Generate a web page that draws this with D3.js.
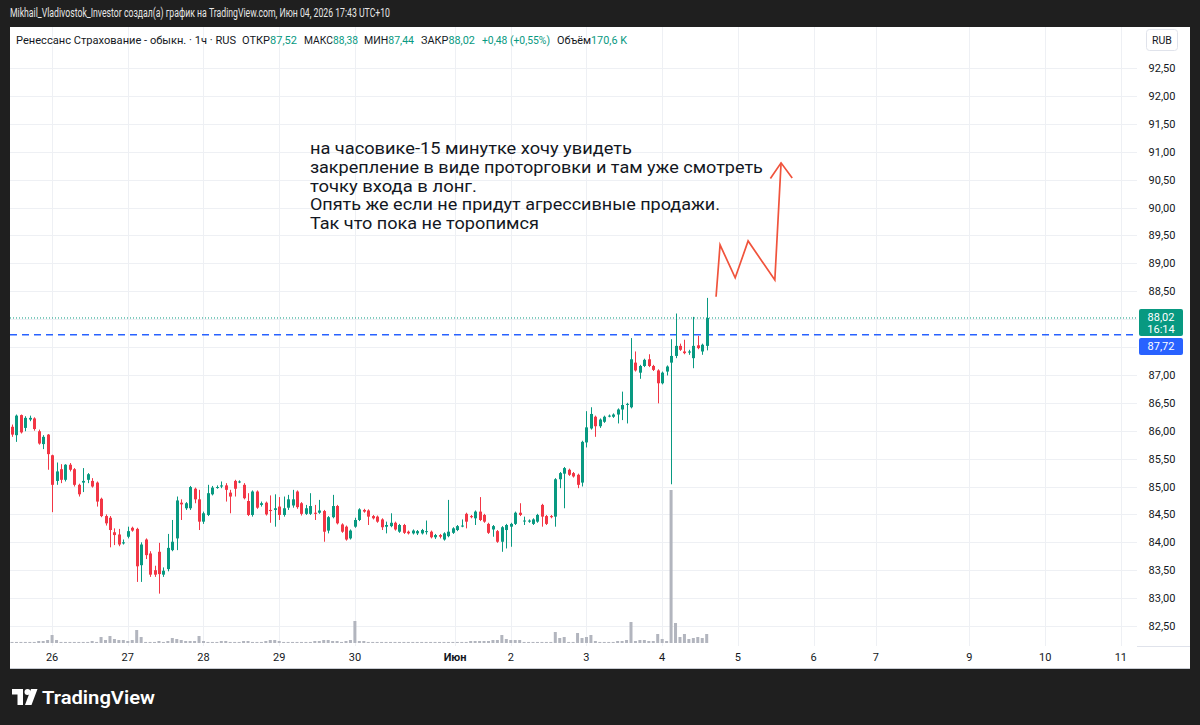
<!DOCTYPE html>
<html><head><meta charset="utf-8">
<script src="https://cdn.jsdelivr.net/npm/d3@7"></script>
<style>
html,body{margin:0;padding:0;background:#1f1f1f;}
svg{display:block;}
text{font-family:Roboto,"Noto Sans",sans-serif;}
</style></head><body>
<svg id="c" width="1200" height="725"></svg>
<script>
// ---------- DATA ----------
const opens=[86.07,85.92,86.28,86.05,86.20,86.22,85.99,85.76,85.93,85.56,85.10,85.31,85.12,85.39,85.31,85.03,85.07,85.12,85.10,85.07,
84.78,84.47,84.44,84.18,84.14,83.98,84.10,84.26,84.24,83.59,84.05,83.80,83.50,83.83,83.42,83.52,83.86,84.07,84.71,84.61,
84.61,84.96,84.77,84.37,84.49,84.86,84.98,85.00,85.02,84.89,85.10,85.08,85.03,84.74,84.49,84.91,84.67,84.71,84.58,84.58,
84.64,84.49,84.62,84.66,84.91,84.70,84.51,84.51,84.53,84.53,84.56,84.21,84.45,84.65,84.32,84.28,84.07,84.28,84.40,84.58,
84.57,84.47,84.46,84.41,84.28,84.29,84.35,84.19,84.31,84.19,84.16,84.16,84.16,84.19,84.19,84.09,84.13,84.05,84.11,84.17,
84.22,84.29,84.51,84.47,84.43,84.55,84.49,84.33,84.23,84.20,84.01,84.22,84.28,84.33,84.53,84.38,84.37,84.33,84.37,84.67,
84.47,84.47,84.46,85.13,85.23,85.30,85.24,85.21,85.07,85.79,86.04,86.25,86.08,86.16,86.26,86.25,86.29,86.38,86.47,86.42,
87.22,87.04,87.16,87.28,87.16,87.08,86.85,87.06,87.22,87.34,87.52,87.42,87.40,87.30,87.53,87.42,87.52];
const highs=[86.11,86.29,86.29,86.26,86.27,86.24,86.02,85.92,85.94,85.57,85.43,85.40,85.40,85.42,85.33,85.05,85.33,85.24,85.15,85.09,
84.80,84.50,84.47,84.25,84.24,84.05,84.28,84.28,84.26,84.00,84.07,83.84,83.58,83.99,83.55,84.15,84.40,84.82,84.77,84.72,
85.01,84.98,84.94,84.55,85.03,85.01,85.02,85.09,85.06,84.94,85.12,85.11,85.06,84.88,84.93,84.93,84.73,84.73,84.84,84.86,
84.81,84.82,84.85,84.94,84.93,84.72,84.67,84.88,84.67,84.76,84.58,84.47,84.85,84.67,84.34,84.30,84.23,84.44,84.61,84.60,
84.59,84.49,84.48,84.43,84.37,84.52,84.37,84.33,84.33,84.21,84.23,84.22,84.24,84.39,84.21,84.15,84.15,84.18,84.76,84.27,
84.31,84.41,84.53,84.49,84.57,84.81,84.51,84.35,84.31,84.22,84.29,84.33,84.35,84.55,84.70,84.46,84.41,84.43,84.51,84.69,
84.49,84.49,85.15,85.26,85.35,85.32,85.26,85.23,85.82,86.35,86.42,86.27,86.22,86.27,86.29,86.31,86.40,86.70,86.50,87.66,
87.42,87.18,87.29,87.37,87.18,87.10,87.06,87.17,87.64,88.10,87.56,87.63,87.45,88.04,87.70,87.56,88.38];
const lows=[85.89,85.80,85.95,85.99,86.17,86.00,85.75,85.67,85.30,84.54,85.03,85.06,85.09,85.27,85.00,84.82,84.90,85.06,84.98,84.64,
84.45,84.30,83.91,83.95,83.93,83.96,84.07,84.19,83.29,83.29,83.70,83.38,83.38,83.08,83.38,83.48,83.84,83.86,84.40,84.58,
84.58,84.70,84.22,84.33,84.47,84.84,84.96,84.97,84.73,84.52,84.82,85.06,84.77,84.47,84.46,84.60,84.64,84.48,84.35,84.28,
84.40,84.46,84.58,84.62,84.60,84.48,84.49,84.49,84.40,84.51,84.01,84.16,84.43,84.32,84.17,84.03,84.05,84.26,84.38,84.53,
84.31,84.41,84.35,84.22,84.16,84.27,84.21,84.17,84.15,84.14,84.14,84.13,84.14,84.14,84.07,84.06,84.07,84.03,84.09,84.15,
84.20,84.27,84.25,84.43,84.31,84.38,84.35,84.15,84.10,83.99,83.83,83.89,83.92,84.31,84.47,84.31,84.35,84.31,84.35,84.28,
84.31,84.43,84.28,84.97,84.61,85.19,85.16,84.97,85.00,85.70,86.02,85.89,86.05,86.14,86.24,86.23,86.13,86.19,86.13,86.40,
87.06,86.93,87.14,87.14,87.07,86.49,86.83,86.99,85.04,87.30,87.43,87.37,87.36,87.12,87.46,87.36,87.44];
const closes=[85.93,86.27,85.97,86.23,86.23,86.03,85.77,85.89,85.58,85.03,85.27,85.12,85.39,85.30,85.03,84.86,85.10,85.22,85.00,84.73,
84.47,84.34,84.22,84.13,83.96,84.00,84.20,84.21,83.57,83.96,83.77,83.42,83.42,83.43,83.49,83.90,84.01,84.75,84.68,84.70,
84.99,84.77,84.37,84.52,84.88,84.98,84.99,85.02,84.94,84.82,84.96,85.09,84.79,84.49,84.91,84.62,84.70,84.50,84.56,84.61,
84.49,84.61,84.77,84.77,84.63,84.51,84.61,84.65,84.51,84.57,84.19,84.45,84.65,84.34,84.19,84.05,84.21,84.40,84.59,84.55,
84.46,84.43,84.37,84.27,84.31,84.35,84.23,84.31,84.17,84.16,84.21,84.20,84.22,84.20,84.09,84.13,84.10,84.16,84.19,84.25,
84.29,84.30,84.37,84.45,84.55,84.40,84.37,84.17,84.29,84.01,84.27,84.31,84.33,84.53,84.49,84.39,84.39,84.41,84.49,84.46,
84.33,84.45,85.13,85.24,85.33,85.21,85.18,85.03,85.80,86.06,86.30,86.08,86.20,86.25,86.27,86.29,86.38,86.46,86.48,87.28,
87.08,87.16,87.27,87.16,87.09,86.85,87.04,87.15,87.34,87.52,87.45,87.39,87.42,87.52,87.48,87.54,88.02];
// volume, thousands of shares
const volumes=[20,20,20,20,20,20,38,38,57,152,57,20,20,20,20,20,20,20,38,20,
114,57,133,76,57,57,38,57,247,114,20,20,20,38,20,38,95,76,57,38,
38,38,133,38,20,20,20,38,38,20,20,20,38,38,20,20,20,38,57,57,
38,20,20,20,20,20,20,20,38,38,57,57,38,38,20,38,57,418,38,38,
20,20,20,20,20,20,20,20,20,20,20,20,20,20,20,20,20,20,20,20,
20,20,20,38,38,38,38,38,57,57,152,76,57,57,57,20,20,20,20,20,
20,20,209,95,114,20,20,190,95,114,152,38,20,20,20,20,38,38,57,399,
38,57,57,38,38,171,76,38,2907,380,114,171,76,95,114,95,171];
const priceTicks=[82.5,83,83.5,84,84.5,85,85.5,86,86.5,87,87.5,88,88.5,89,89.5,90,90.5,91,91.5,92,92.5];
const hiddenTicks=[87.5,88];
const dateLabels=["26","27","28","29","30","Июн","2","3","4","5","6","7","9","10","11"];
const dateIndex=[9,26,43,60,77,99.5,112,129,146,163,180,194,215,232,249];
const lastClose=88.02, lastTime="16:14", lineLevel=87.72;
const zigzag=[[158.1,88.40],[159.0,89.33],[162.4,88.74],[165.3,89.40],[171.3,88.70],[172.7,90.80]];
const arrowWings=[[170.3,90.52],[172.7,90.80],[175.2,90.53]];
const noteAnchor=[66.9,90.96];
const noteLines=["на часовике-15 минутке хочу увидеть","закрепление в виде проторговки и там уже смотреть","точку входа в лонг.","Опять же если не придут агрессивные продажи.","Так что пока не торопимся"];
const noteWidths=[322,453,167,410,229];
// legend: [label, value, x, width]
const legendTitle=["Ренессанс Страхование - обыкн. · 1ч · RUS",16,220];
const legendParts=[["ОТКР","87,52",242,55],["МАКС","88,38",304,54],["МИН","87,44",364,50],["ЗАКР","88,02",421,54],["","+0,48 (+0,55%)",482,68],["Объём","170,6 K",557,70]];
const headerText="Mikhail_Vladivostok_Investor создал(а) график на TradingView.com, Июн 04, 2026 17:43 UTC+10";

// ---------- LAYOUT ----------
const svg=d3.select("#c");
const UP="#089981", DOWN="#f23645";
const panel={x0:10,x1:1190,y0:27,y1:669};
const plotRight=1137, timeTop=646, volBase=643;
const x=d3.scaleLinear().domain([0,156]).range([12,706.7]);
const y=d3.scaleLinear().domain([82.5,92.5]).range([626,68]);
const v=d3.scaleLinear().domain([0,d3.max(volumes)]).range([0,153]);
const fmt=p=>d3.format(".2f")(p).replace(".",",");

svg.append("rect").attr("width",1200).attr("height",725).attr("fill","#1f1f1f");
svg.append("rect").attr("x",panel.x0).attr("y",panel.y0).attr("width",panel.x1-panel.x0).attr("height",panel.y1-panel.y0).attr("fill","#ffffff");

// header
svg.append("text").attr("x",10).attr("y",17).attr("fill","#e6e6e6").attr("font-size",12)
  .attr("textLength",380).attr("lengthAdjust","spacingAndGlyphs").text(headerText);

const plot=svg.append("g");
plot.append("clipPath").attr("id","clip").append("rect").attr("x",panel.x0).attr("y",panel.y0).attr("width",plotRight-panel.x0).attr("height",timeTop-panel.y0);
const g=plot.append("g").attr("clip-path","url(#clip)");

// grid
g.selectAll("line.hg").data(priceTicks).join("line").attr("class","hg")
  .attr("x1",panel.x0).attr("x2",plotRight).attr("y1",d=>Math.round(y(d))+0.5).attr("y2",d=>Math.round(y(d))+0.5)
  .attr("stroke","#eef0f4").attr("stroke-width",1);
g.selectAll("line.vg").data(dateIndex).join("line").attr("class","vg")
  .attr("x1",d=>Math.round(x(d))+0.5).attr("x2",d=>Math.round(x(d))+0.5).attr("y1",panel.y0).attr("y2",timeTop)
  .attr("stroke","#eef0f4").attr("stroke-width",1);

// volume
g.selectAll("rect.vol").data(volumes).join("rect").attr("class","vol")
  .attr("x",(d,i)=>x(i)-1.5).attr("width",3)
  .attr("y",d=>volBase-Math.max(1,v(d))).attr("height",d=>Math.max(1,v(d)))
  .attr("fill","#b2b5be");

// price lines
g.append("line").attr("x1",panel.x0).attr("x2",plotRight).attr("y1",y(lastClose)).attr("y2",y(lastClose))
  .attr("stroke",UP).attr("stroke-width",1).attr("stroke-dasharray","1,2");
g.append("line").attr("x1",panel.x0).attr("x2",plotRight+4).attr("y1",y(lineLevel)).attr("y2",y(lineLevel))
  .attr("stroke","#2962ff").attr("stroke-width",1.5).attr("stroke-dasharray","7,5");

// candles
const idx=d3.range(opens.length);
g.selectAll("line.wick").data(idx).join("line").attr("class","wick")
  .attr("x1",i=>Math.round(x(i))+0.5).attr("x2",i=>Math.round(x(i))+0.5)
  .attr("y1",i=>y(highs[i])).attr("y2",i=>y(lows[i]))
  .attr("stroke",i=>closes[i]>=opens[i]?UP:DOWN).attr("stroke-width",1);
g.selectAll("rect.body").data(idx).join("rect").attr("class","body")
  .attr("x",i=>Math.round(x(i))-1).attr("width",3)
  .attr("y",i=>y(Math.max(opens[i],closes[i])))
  .attr("height",i=>Math.max(1,Math.abs(y(opens[i])-y(closes[i]))))
  .attr("fill",i=>closes[i]>=opens[i]?UP:DOWN);

// annotation
const ln=d3.line().x(d=>x(d[0])).y(d=>y(d[1]));
svg.append("path").attr("d",ln(zigzag)).attr("fill","none").attr("stroke","#f0533c").attr("stroke-width",1.7).attr("stroke-linejoin","miter");
svg.append("path").attr("d",ln(arrowWings)).attr("fill","none").attr("stroke","#f0533c").attr("stroke-width",1.7);
const nt=svg.append("g");
noteLines.forEach((t,k)=>{
  nt.append("text").attr("x",x(noteAnchor[0])).attr("y",y(noteAnchor[1])+k*18.8)
    .attr("font-size",16).attr("fill","#131722")
    .attr("textLength",noteWidths[k]).attr("lengthAdjust","spacingAndGlyphs").text(t);
});

// price axis
const ax=svg.append("g");
ax.selectAll("text").data(priceTicks.filter(d=>!hiddenTicks.includes(d))).join("text")
  .attr("x",1162).attr("y",d=>y(d)+4).attr("text-anchor","middle").attr("font-size",11).attr("fill","#131722").text(fmt);
ax.append("rect").attr("x",1146.5).attr("y",29.5).attr("width",31).attr("height",21).attr("rx",3)
  .attr("fill","#fff").attr("stroke","#e0e3eb");
ax.append("text").attr("x",1162).attr("y",44).attr("text-anchor","middle").attr("font-size",10.5).attr("fill","#131722").text("RUB");
ax.append("line").attr("x1",plotRight).attr("x2",panel.x1).attr("y1",timeTop+0.5).attr("y2",timeTop+0.5).attr("stroke","#e0e3eb");
// last price label
const ly=y(lastClose);
ax.append("rect").attr("x",1139).attr("y",ly-9).attr("width",44).attr("height",27).attr("rx",2).attr("fill",UP);
ax.append("text").attr("x",1161).attr("y",ly+3).attr("text-anchor","middle").attr("font-size",11).attr("fill","#fff").text(fmt(lastClose));
ax.append("text").attr("x",1161).attr("y",ly+15).attr("text-anchor","middle").attr("font-size",11).attr("fill","#fff").text(lastTime);
ax.append("rect").attr("x",1139).attr("y",ly+20).attr("width",44).attr("height",17).attr("rx",2).attr("fill","#2962ff");
ax.append("text").attr("x",1161).attr("y",ly+32.5).attr("text-anchor","middle").attr("font-size",11).attr("fill","#fff").text(fmt(lineLevel));

// time axis
svg.selectAll("text.date").data(dateLabels).join("text").attr("class","date")
  .attr("x",(d,i)=>x(dateIndex[i])).attr("y",661).attr("text-anchor","middle")
  .attr("font-size",11).attr("font-weight",d=>d==="Июн"?"bold":"normal").attr("fill","#131722").text(d=>d);
svg.append("line").attr("x1",panel.x0).attr("x2",panel.x1).attr("y1",668.5).attr("y2",668.5).attr("stroke","#c8cbd2");

// legend
svg.append("text").attr("x",legendTitle[1]).attr("y",44).attr("font-size",11).attr("fill","#131722")
  .attr("textLength",legendTitle[2]).attr("lengthAdjust","spacingAndGlyphs").text(legendTitle[0]);
legendParts.forEach(p=>{
  const t=svg.append("text").attr("x",p[2]).attr("y",44).attr("font-size",11)
    .attr("textLength",p[3]).attr("lengthAdjust","spacingAndGlyphs");
  if(p[0]) t.append("tspan").attr("fill","#131722").text(p[0]);
  t.append("tspan").attr("fill",UP).text(p[1]);
});

// footer logo
const lg=svg.append("g").attr("fill","#ffffff");
lg.append("path").attr("d","M12 689 H23 V705 H17.5 V694.5 H12 Z");
lg.append("circle").attr("cx",27.5).attr("cy",692).attr("r",3);
lg.append("path").attr("d","M31 689 H37.5 L31.5 705 H25 Z");
svg.append("text").attr("x",42).attr("y",704).attr("font-size",19).attr("font-weight",600).attr("fill","#fff")
  .attr("textLength",113).attr("lengthAdjust","spacingAndGlyphs").text("TradingView");
</script>
</body></html>
